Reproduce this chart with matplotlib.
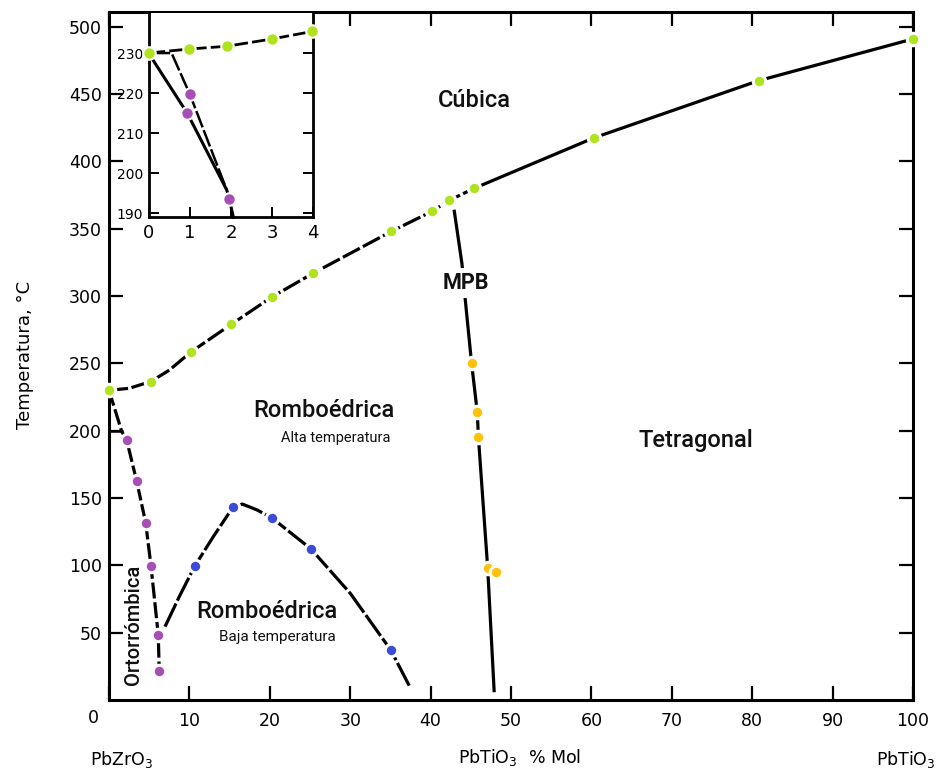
import matplotlib
matplotlib.use("Agg")
import matplotlib.pyplot as plt

# ---------------- data ----------------
# Cubic / Curie boundary points (green)
cubic_x = [0, 5.2, 10.2, 15.2, 20.3, 25.4, 35.1, 40.2, 42.3, 45.4, 60.3, 80.8, 100]
cubic_T = [230, 236.5, 258.5, 279, 299.5, 317, 348, 363, 371, 380, 417.5, 460, 491]
cubic_line_x = [0, 2.5, 5.2, 7.5, 10.2, 15.2, 20.3, 25.4, 35.1, 40.2, 42.3, 45.4, 60.3, 80.8, 100]
cubic_line_T = [230, 231.5, 236.5, 245, 258.5, 279, 299.5, 317, 348, 363, 371, 380, 417.5, 460, 491]
cubic_split = 11  # index where the dashed part ends and the solid part begins

# Orthorhombic boundary (magenta)
ortho_x = [2.2, 3.44, 4.56, 5.22, 6.13, 6.25]
ortho_T = [193, 162.6, 131.7, 99.8, 48.1, 21.3]
ortho_line_x = [0, 1.58, 2.2, 3.44, 4.56, 5.22, 6.13, 6.25]
ortho_line_T = [230, 199.5, 193, 162.6, 131.7, 99.8, 48.1, 21.3]
tri_x = [0, 1.58]
tri_T = [199.5, 199.5]

# Low-temperature rhombohedral boundary (blue)
lowr_x = [10.7, 15.46, 20.27, 25.1, 35.07]
lowr_T = [99.8, 143.6, 135.2, 112.3, 36.9]
lowr_line_x = [6.97, 8.8, 10.7, 12.97, 15.46, 16.6, 18.4, 20.27, 25.1, 30.0, 35.07, 37.4]
lowr_line_T = [54.5, 77.5, 99.8, 121.3, 143.6, 145.5, 141.2, 135.2, 112.3, 79.3, 36.9, 9.9]

# Morphotropic phase boundary (orange)
mpb_x = [45.1, 45.8, 45.95, 47.1, 48.1]
mpb_T = [250, 213.7, 195.2, 97.8, 95.3]
mpb_line_x = [42.95, 43.9, 44.3, 45.1, 45.8, 45.95, 47.1, 47.9]
mpb_line_T = [363, 324, 298, 250, 214, 195, 98, 7]

# Inset (zoom of the PbZrO3 corner)
in_cub_x = [0, 0.98, 1.9, 2.99, 3.98]
in_cub_T = [230, 231, 231.7, 233.5, 235.4]
in_mag_x = [1.0, 0.94, 1.96]
in_mag_T = [219.8, 215, 193.5]
in_lineA_x = [0, 0.94, 1.9, 1.96, 2.06]
in_lineA_T = [230, 215, 195.8, 193.5, 189]
in_lineB_x = [0.1, 0.56, 1.0, 1.9]
in_lineB_T = [230, 230, 219.8, 195.8]

x_ticks = [0, 10, 20, 30, 40, 50, 60, 70, 80, 90, 100]
y_ticks = [50, 100, 150, 200, 250, 300, 350, 400, 450, 500]
in_x_ticks = [0, 1, 2, 3, 4]
in_y_ticks = [190, 200, 210, 220, 230]

GREEN = "#aee31e"
MAGENTA = "#a64fb5"
BLUE = "#3d4bd6"
ORANGE = "#ffc10a"

W, H = 943, 774
fig = plt.figure(figsize=(W / 100, H / 100), dpi=100)

# main axes
ax = fig.add_axes([109 / W, (H - 700) / H, (913 - 109) / W, (700 - 12) / H])
ax.set_xlim(0, 100)
ax.set_ylim(0, 511)
for s in ax.spines.values():
    s.set_linewidth(2.2)
ax.tick_params(direction="in", length=10, width=1.6, top=True, right=True,
               labelsize=12.5)
ax.tick_params(axis="x", pad=9)
ax.tick_params(axis="y", pad=5)
ax.set_xticks(x_ticks)
ax.set_xticklabels([""] + [str(v) for v in x_ticks[1:]])
ax.set_yticks(y_ticks)
ax.set_yticklabels([str(v) for v in y_ticks])

lw = 2.3
ax.plot(cubic_line_x[:cubic_split + 1], cubic_line_T[:cubic_split + 1],
        color="black", lw=lw, dashes=(6, 1.1), zorder=2)
ax.plot(cubic_line_x[cubic_split:], cubic_line_T[cubic_split:],
        color="black", lw=lw, zorder=2)
ax.plot(ortho_line_x, ortho_line_T, color="black", lw=lw, dashes=(5, 1.2), zorder=2)
ax.plot(tri_x, tri_T, color="black", lw=1.8, zorder=2)
ax.plot(lowr_line_x, lowr_line_T, color="black", lw=lw, dashes=(8, 1.0), zorder=2)
ax.plot(mpb_line_x, mpb_line_T, color="black", lw=lw, zorder=2)

mk = dict(marker="o", ls="none", ms=9, mec="white", mew=2.2, zorder=4, clip_on=False)
ax.plot(cubic_x, cubic_T, mfc=GREEN, **mk)
ax.plot(ortho_x, ortho_T, mfc=MAGENTA, **mk)
ax.plot(lowr_x, lowr_T, mfc=BLUE, **mk)
ax.plot(mpb_x, mpb_T, mfc=ORANGE, **mk)

# region labels
lab = dict(family="Roboto", color="#111111", ha="center", va="center", zorder=5)
ax.text(45.4, 445, "Cúbica", fontsize=17, fontweight="medium", **lab)
ax.text(44.4, 310, "MPB", fontsize=15.5, fontweight="bold",
        bbox=dict(facecolor="white", edgecolor="none", pad=3), **lab)
ax.text(26.7, 215, "Romboédrica", fontsize=17, fontweight="medium", **lab)
ax.text(28.2, 194.5, "Alta temperatura", fontsize=10.5, **lab)
ax.text(73.0, 192.5, "Tetragonal", fontsize=17, fontweight="medium", **lab)
ax.text(19.6, 66, "Romboédrica", fontsize=17, fontweight="medium", **lab)
ax.text(21.0, 47, "Baja temperatura", fontsize=11, **lab)
ax.text(3.1, 56, "Ortorrómbica", fontsize=14.5, fontweight="medium", rotation=90, **lab)

# extra figure labels
fig.text(93 / W, 1 - 718 / H, "0", fontsize=12.5, ha="center", va="center")
fig.text(25 / W, 1 - 355 / H, "Temperatura, °C", fontsize=13, rotation=90,
         ha="center", va="center")
fig.text(122 / W, 1 - 760 / H, r"PbZrO$_3$", fontsize=12.5, ha="center", va="center")
fig.text(519 / W, 1 - 758 / H, r"PbTiO$_3$  % Mol", fontsize=12.5, ha="center", va="center")
fig.text(906 / W, 1 - 760 / H, r"PbTiO$_3$", fontsize=12.5, ha="center", va="center")

# inset
axi = fig.add_axes([148.5 / W, (H - 217.3) / H, (313.3 - 148.5) / W, (217.3 - 13) / H])
axi.set_xlim(0, 4)
axi.set_ylim(189, 240)
axi.set_zorder(6)
for s in axi.spines.values():
    s.set_linewidth(2.0)
axi.spines["top"].set_visible(False)
axi.tick_params(direction="in", length=7, width=1.4, right=True)
axi.tick_params(axis="x", labelsize=13, pad=5)
axi.tick_params(axis="y", labelsize=10, pad=4)
axi.set_xticks(in_x_ticks)
axi.set_yticks(in_y_ticks)
axi.plot(in_cub_x, in_cub_T, color="black", lw=2.0, dashes=(6, 1.5), zorder=2)
axi.plot(in_lineA_x, in_lineA_T, color="black", lw=2.2, zorder=2, clip_on=False)
axi.plot(in_lineB_x, in_lineB_T, color="black", lw=1.8, dashes=(7, 1.2), zorder=2)
mki = dict(marker="o", ls="none", ms=9, mec="white", mew=1.5, zorder=4, clip_on=False)
axi.plot(in_cub_x, in_cub_T, mfc=GREEN, **mki)
axi.plot(in_mag_x, in_mag_T, mfc=MAGENTA, **mki)

fig.savefig("out.png", dpi=100)
